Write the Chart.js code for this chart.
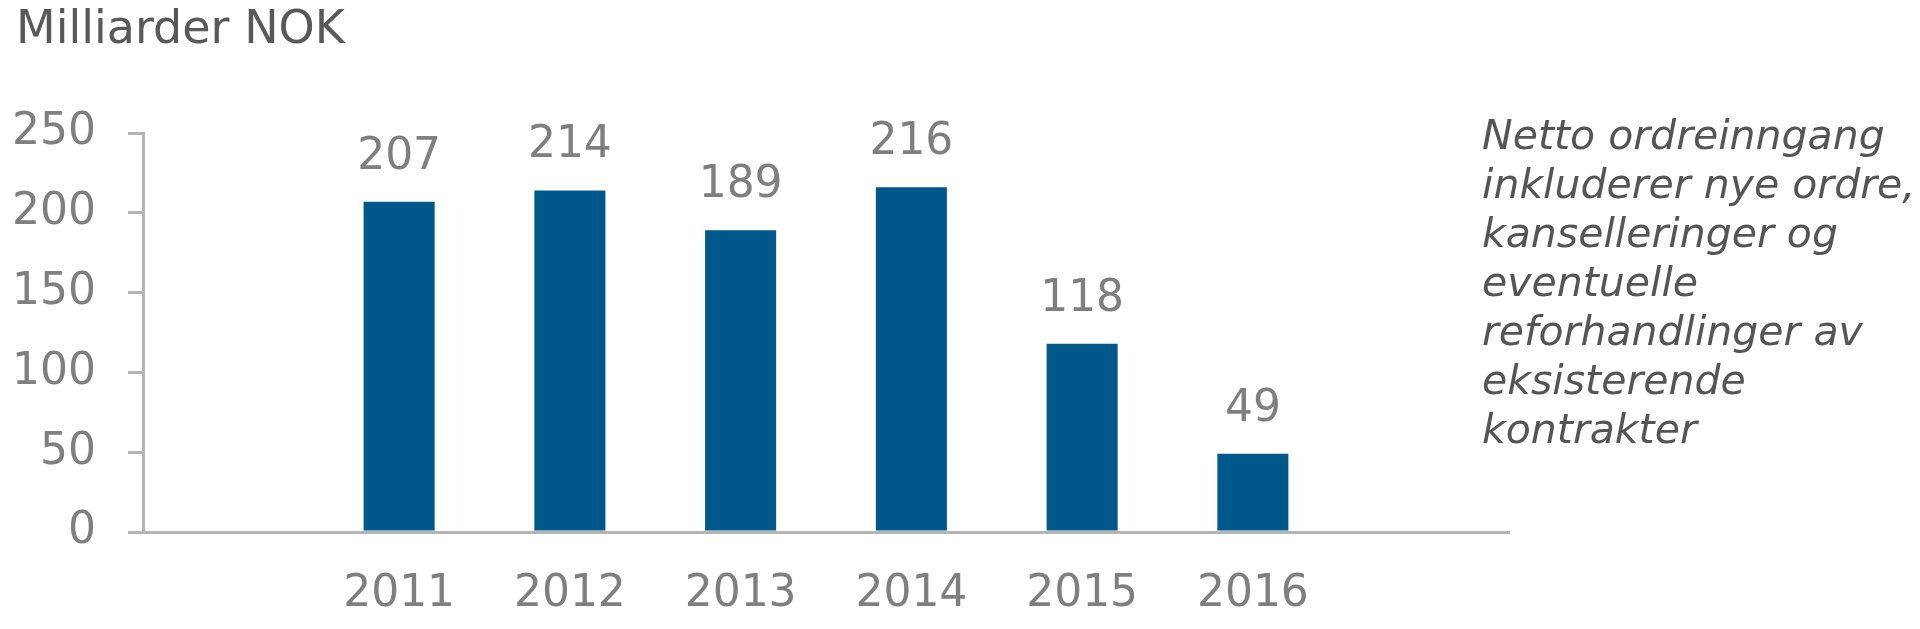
<!DOCTYPE html>
<html>
<head>
<meta charset="utf-8">
<script src="https://cdn.jsdelivr.net/npm/chart.js@4"></script>
<style>
  body { margin: 0; background: #fff; }
  #wrap { position: relative; width: 1920px; height: 629px; }
  #title {
    position: absolute; left: 16px; top: 4px;
    font: 46px "DejaVu Sans", Verdana, sans-serif; line-height: 46px;
    color: #595959; white-space: nowrap;
  }
  #note {
    position: absolute; left: 1482px; top: 111px;
    font: italic 41px "DejaVu Sans", Verdana, sans-serif; line-height: 49px;
    color: #555555; white-space: nowrap;
  }
</style>
</head>
<body>
<div id="wrap">
  <canvas id="orderChart" width="1920" height="629"></canvas>
  <div id="title">Milliarder NOK</div>
  <div id="note">Netto ordreinngang<br>inkluderer nye ordre,<br>kanselleringer og<br>eventuelle<br>reforhandlinger av<br>eksisterende<br>kontrakter</div>
</div>
<script>
// empty slots at both ends, like the original
const years = ['', '2011', '2012', '2013', '2014', '2015', '2016', ''];
const orderIntake = [null, 207, 214, 189, 216, 118, 49, null];
const yTicks = [0, 50, 100, 150, 200, 250];

const axisGrey = '#b4b4b4';
const labelGrey = '#7f7f7f';

// value labels above bars
const barValues = {
    id: 'barValues',
    afterDatasetsDraw(chart) {
        const ctx = chart.ctx;
        const meta = chart.getDatasetMeta(0);
        ctx.save();
        ctx.font = '44px "DejaVu Sans", Verdana, sans-serif';
        ctx.fillStyle = labelGrey;
        ctx.textAlign = 'center';
        ctx.textBaseline = 'alphabetic';
        meta.data.forEach((bar, i) => {
            const v = orderIntake[i];
            if (v == null) return;
            ctx.fillText(String(v), bar.x, bar.y - 33);
        });
        ctx.restore();
    }
};

const ctx = document.getElementById('orderChart').getContext('2d');
new Chart(ctx, {
    type: 'bar',
    data: {
        labels: years,
        datasets: [{
            data: orderIntake,
            backgroundColor: '#00578a',
            barPercentage: 0.416,
            categoryPercentage: 1
        }]
    },
    options: {
        responsive: false,
        animation: false,
        layout: { padding: { top: 133, right: 411, bottom: 0, left: 0 } },
        plugins: { legend: { display: false }, tooltip: { enabled: false } },
        scales: {
            x: {
                grid: { display: false, drawTicks: false },
                border: { display: true, color: axisGrey, width: 3 },
                ticks: {
                    color: labelGrey,
                    padding: 36,
                    maxRotation: 0,
                    autoSkip: false,
                    font: { family: '"DejaVu Sans", Verdana, sans-serif', size: 44 }
                },
                afterFit(scale) { scale.height = 97; }
            },
            y: {
                min: 0,
                max: 250,
                afterBuildTicks(scale) { scale.ticks = yTicks.map(v => ({ value: v })); },
                grid: { drawOnChartArea: false, color: axisGrey, lineWidth: 3, tickLength: 15 },
                border: { display: true, color: axisGrey, width: 3 },
                ticks: {
                    color: labelGrey,
                    padding: 32,
                    font: { family: '"DejaVu Sans", Verdana, sans-serif', size: 44 }
                },
                afterFit(scale) { scale.width = 143; }
            }
        }
    },
    plugins: [barValues]
});
</script>
</body>
</html>
